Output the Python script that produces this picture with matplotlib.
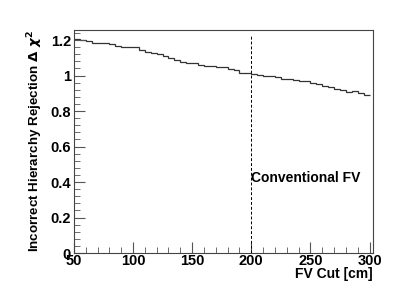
'''
    FV cut scan: incorrect hierarchy rejection
'''

import numpy as np
import matplotlib
matplotlib.use("Agg")
import matplotlib.pyplot as plt
from matplotlib.ticker import MultipleLocator

# bin edges of the FV cut scan [cm]
fv_edges = list(range(50, 305, 5))

# delta chi2 per bin
delta_chi2 = [1.206, 1.200, 1.193, 1.186, 1.181, 1.181, 1.176, 1.168, 1.162, 1.160,
              1.158, 1.145, 1.134, 1.127, 1.121, 1.112, 1.099, 1.087, 1.074, 1.070,
              1.070, 1.061, 1.052, 1.052, 1.046, 1.048, 1.038, 1.031, 1.016, 1.016,
              1.010, 1.001, 0.995, 0.998, 0.990, 0.980, 0.978, 0.976, 0.970, 0.967,
              0.960, 0.952, 0.943, 0.935, 0.925, 0.917, 0.909, 0.911, 0.903, 0.888]

conventional_fv = 200

plt.rcParams['font.family'] = ['Liberation Sans', 'DejaVu Sans']
plt.rcParams['font.weight'] = 'bold'

fig = plt.figure(figsize=(4.15, 2.98), dpi=100)
ax = fig.add_axes([0.178, 0.151, 0.721, 0.748])

# no drop to zero at the ends, like a ROOT histogram
ax.stairs(delta_chi2, fv_edges, baseline=None, color="#333333", linewidth=0.9)
ax.plot([conventional_fv, conventional_fv], [0, 1.225], color="black",
        linestyle=(0, (3, 2)), linewidth=0.7)
ax.text(conventional_fv, 0.42, "Conventional FV", fontsize=10, fontweight='bold',
        va='center', ha='left')

ax.set_xlim(50, 303)
ax.set_ylim(0, 1.256)

ax.xaxis.set_major_locator(MultipleLocator(50))
ax.xaxis.set_minor_locator(MultipleLocator(10))
ax.yaxis.set_major_locator(MultipleLocator(0.2))
ax.yaxis.set_minor_locator(MultipleLocator(0.04))
ax.set_yticks([0, 0.2, 0.4, 0.6, 0.8, 1.0, 1.2])
ax.set_yticklabels(["0", "0.2", "0.4", "0.6", "0.8", "1", "1.2"])

ax.tick_params(which='both', direction='in', top=False, right=False,
               labelsize=10.5, color="#555555")
ax.tick_params(which='major', length=8)
ax.tick_params(which='minor', length=4)
ax.tick_params(axis='x', pad=1)
ax.tick_params(axis='y', pad=2)
for sp in ax.spines.values():
    sp.set_color("#444444")

ax.set_xlabel("FV Cut [cm]", fontsize=10, fontweight='bold', loc='right')
ax.xaxis.set_label_coords(1.0, -0.065)
ax.set_ylabel(r"Incorrect Hierarchy Rejection $\Delta\ \chi^{2}$", fontsize=9.6,
              fontweight='bold', loc='top')
ax.yaxis.set_label_coords(-0.095, 1.0)

fig.savefig("out.png", dpi=100)
